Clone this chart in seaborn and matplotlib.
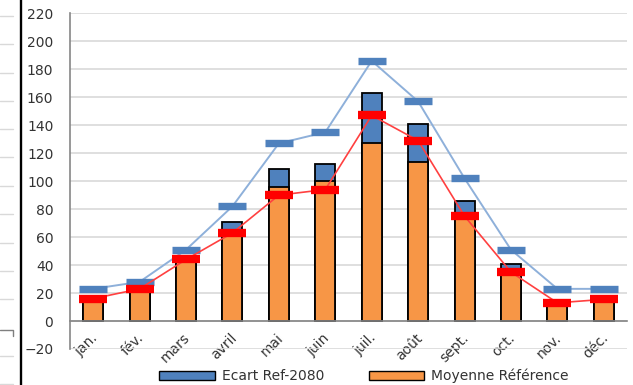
import matplotlib
matplotlib.use("Agg")
import matplotlib.pyplot as plt
from matplotlib.lines import Line2D
from matplotlib.patches import Patch
import matplotlib.transforms as mtransforms
import numpy as np
import pandas as pd
import seaborn as sns

# Monthly data
mois = ['jan.', 'fév.', 'mars', 'avril', 'mai', 'juin',
        'juil.', 'août', 'sept.', 'oct.', 'nov.', 'déc.']
moyenne_reference = [15, 21, 42, 62, 96, 100, 127, 114, 74, 35, 12, 14]
ecart_ref_2080 = [1, 1, 2, 9, 13, 12, 36, 27, 12, 5.5, 1, 1]
courbe_bleue = [23, 28, 51, 82, 127, 135, 186, 157, 102, 51, 23, 23]
courbe_rouge = [16, 23, 44, 63, 90, 94, 147, 129, 75, 35, 13, 15.5]
graduations_y = list(range(-20, 221, 20))

BLEU = '#4F81BD'
ORANGE = '#F79646'
ROUGE = '#FF0000'
AXE = '#868686'
GRILLE = '#D9D9D9'
TEXTE = '#333333'

sns.set_theme(style='white')
plt.rcParams['font.family'] = ['DejaVu Sans']

W, H = 633, 385
fig = plt.figure(figsize=(W / 100, H / 100), dpi=100)
ax = fig.add_axes([70 / W, 36 / H, 557 / W, 335.7 / H])

df = pd.DataFrame({
    'mois': mois,
    'reference': moyenne_reference,
    'total': np.array(moyenne_reference) + np.array(ecart_ref_2080),
})

# Stacked bars: full height in blue, reference part in orange on top of it
sns.barplot(data=df, x='mois', y='total', color=BLEU, saturation=1,
            edgecolor='black', linewidth=1.3, width=0.43, errorbar=None, ax=ax)
sns.barplot(data=df, x='mois', y='reference', color=ORANGE, saturation=1,
            edgecolor='black', linewidth=1.3, width=0.43, errorbar=None, ax=ax)

pos = np.arange(len(mois))
sns.lineplot(x=pos, y=courbe_bleue, ax=ax, color='#8EB0DA', linewidth=1.4,
             marker='_', markersize=19.5, markeredgewidth=5.3,
             markeredgecolor=BLEU, zorder=4)
sns.lineplot(x=pos, y=courbe_rouge, ax=ax, color='#FF4040', linewidth=1.2,
             marker='_', markersize=20, markeredgewidth=6,
             markeredgecolor=ROUGE, zorder=5)

ax.set_xlim(-0.5, len(mois) - 0.5)
ax.set_ylim(-20, 220)
ax.set_yticks(graduations_y)
ax.set_xlabel('')
ax.set_ylabel('')
ax.grid(axis='y', color=GRILLE, linewidth=1.2)
ax.grid(axis='x', visible=False)
ax.set_axisbelow(True)

for s in ('top', 'right'):
    ax.spines[s].set_visible(False)
ax.spines['left'].set_color(AXE)
ax.spines['left'].set_linewidth(1.2)
ax.spines['bottom'].set_color(AXE)
ax.spines['bottom'].set_linewidth(1.2)
ax.spines['bottom'].set_position(('data', 0))

ax.set_xticks(pos)
ax.set_xticklabels(mois, rotation=45, ha='right', va='top',
                   rotation_mode='anchor', fontsize=10, color=TEXTE)
ax.set_xticks(np.arange(-0.5, len(mois), 1), minor=True)
ax.tick_params(axis='x', which='major', length=0, pad=7)
ax.tick_params(axis='x', which='minor', length=5, width=1.2, color=AXE,
               direction='out')
ax.tick_params(axis='y', length=5, width=1.2, color=AXE, direction='out',
               pad=7, labelsize=10, labelcolor=TEXTE)

offset = mtransforms.ScaledTranslation(-3 / 100, 0, fig.dpi_scale_trans)
for lab in ax.get_xticklabels():
    lab.set_transform(lab.get_transform() + offset)

handles = [Patch(facecolor=BLEU, edgecolor='black', label='Ecart Ref-2080'),
           Patch(facecolor=ORANGE, edgecolor='black', label='Moyenne Référence')]
fig.legend(handles=handles, loc='center', bbox_to_anchor=(364 / W, 9 / H),
           ncol=2, frameon=False, handlelength=4, handleheight=0.6,
           handletextpad=0.5, columnspacing=3.2, fontsize=10,
           labelcolor=TEXTE)

# Left border strip
def px_line(xs, ys, **kw):
    fig.add_artist(Line2D([x / W for x in xs], [1 - y / H for y in ys], **kw))

for y in (16, 44, 73, 101, 129, 157, 186, 214, 243, 271, 299, 356, 384):
    px_line([0, 13], [y, y], color=GRILLE, linewidth=1)
px_line([0, 13, 13], [330, 330, 336], color='#7F7F7F', linewidth=1)
px_line([21, 21], [0, H], color='black', linewidth=1.7)

fig.savefig('out.png', dpi=100)
